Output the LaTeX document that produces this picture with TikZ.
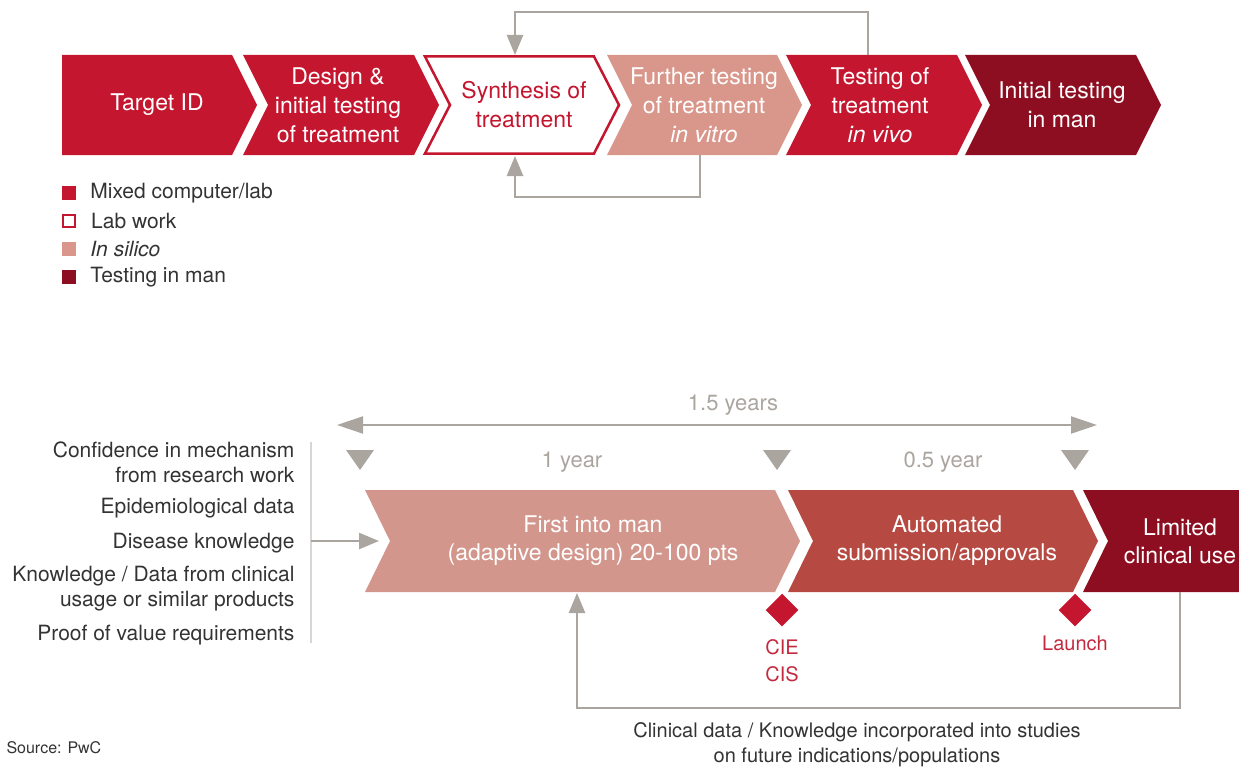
\documentclass[tikz,border=0pt]{standalone}
\usepackage{fontspec}
\setmainfont{TeX Gyre Heros}
\usepackage{tikz}
\usetikzlibrary{arrows.meta, positioning}
\usepackage{xcolor}
\definecolor{mixred}{HTML}{C4162F}
\definecolor{silico}{HTML}{D9968A}
\definecolor{silicolight}{HTML}{D3968C}
\definecolor{autored}{HTML}{B64A43}
\definecolor{manred}{HTML}{8E0E21}
\definecolor{arrowgrey}{HTML}{ABA59F}
\definecolor{listgrey}{HTML}{D8D5D2}
\definecolor{labelred}{HTML}{C42A3E}
\definecolor{bodytext}{HTML}{333333}

\begin{document}
\begin{tikzpicture}[x=1pt, y=-1pt, >={Triangle[length=20pt, width=16pt]},
                    stage text/.style={text=white, align=center, font=\fontsize{23}{29}\selectfont},
                    legend box/.style={minimum size=14pt, inner sep=0pt},
                    legend text/.style={text=bodytext, inner sep=0pt, font=\fontsize{21}{25}\selectfont},
                    input text/.style={anchor=east, align=right, text=bodytext, font=\fontsize{21}{25}\selectfont},
                    grey text/.style={text=arrowgrey, font=\fontsize{22}{26}\selectfont},
                    loop line/.style={draw=arrowgrey, line width=2.5pt},
                    milestone/.style={fill=mixred, minimum size=23pt, inner sep=0pt, rotate=45},
                    milestone text/.style={text=labelred, align=center, font=\fontsize{20}{27}\selectfont}]

    \useasboundingbox (0,0) rectangle (1239,768);

    % research pipeline
    \fill[mixred] (62,55) -- (232,55) -- (257,105) -- (232,155) -- (62,155) -- cycle;
    \foreach \xl/\xr/\col in {243/414/mixred, 607/777/silico, 786/957/mixred, 965/1136/manred}
        \fill[\col] (\xl,55) -- (\xr,55) -- (\xr+25,105) -- (\xr,155) -- (\xl,155) -- (\xl+25,105) -- cycle;
    \draw[mixred, line width=2.5pt, fill=white] (425,56.5) -- (594,56.5) -- (619,105) -- (594,153.5) -- (425,153.5) -- (450,105) -- cycle;

    \node[stage text]               (target) at (157,105)  {Target ID};
    \node[stage text]               (design) at (338,105)  {Design \&\\initial testing\\of treatment};
    \node[stage text, text=mixred]  (synth)  at (524,105)  {Synthesis of\\treatment};
    \node[stage text]               (vitro)  at (704,105)  {Further testing\\of treatment\\\textit{in vitro}};
    \node[stage text]               (vivo)   at (880,105)  {Testing of\\treatment\\\textit{in vivo}};
    \node[stage text]               (inman)  at (1062,105) {Initial testing\\in man};

    % loops back to synthesis
    \coordinate (synth top)    at (515,55);
    \coordinate (synth bottom) at (515,156);
    \coordinate (vivo top)     at (868,55);
    \coordinate (vitro bottom) at (700,155);
    \draw[loop line, ->] (vivo top) -- ++(0,-43) -| (synth top);
    \draw[loop line, ->] (vitro bottom) -- ++(0,42) -| (synth bottom);

    % legend
    \node[legend box, fill=mixred]                                   (key mixed) at (69,193) {};
    \node[legend box, draw=mixred, fill=white, line width=2pt, minimum size=12pt] (key lab) at (69,221) {};
    \node[legend box, fill=silico]                                   (key silico) at (69,249) {};
    \node[legend box, fill=manred]                                   (key man) at (69,277) {};
    \node[legend text, right=14pt of key mixed]  (key mixed text)  {Mixed computer/lab};
    \node[legend text, right=15pt of key lab]    (key lab text)    {Lab work};
    \node[legend text, right=14pt of key silico] (key silico text) {\textit{In silico}};
    \node[legend text, right=14pt of key man]    (key man text)    {Testing in man};

    % timescale
    \coordinate (span left)  at (337,425);
    \coordinate (span right) at (1097,425);
    \draw[loop line, line width=2pt, {Triangle[length=26pt, width=17pt]}-{Triangle[length=26pt, width=17pt]}] (span left) -- (span right);
    \node[grey text] (span label) at (733,405) {1.5 years};
    \foreach \x in {360,777,1075}
        \fill[arrowgrey] (\x-14,450) -- (\x+14,450) -- (\x,470) -- cycle;
    \node[grey text] (one year)  at (572,462) {1 year};
    \node[grey text] (half year) at (943,462) {0.5 year};

    % accelerated route
    \fill[silicolight] (365,490) -- (775,490) -- (800,541) -- (775,592) -- (365,592) -- (390,541) -- cycle;
    \fill[autored] (788,490) -- (1073,490) -- (1098,541) -- (1073,592) -- (788,592) -- (813,541) -- cycle;
    \fill[manred] (1083,490) -- (1239,490) -- (1239,592) -- (1083,592) -- (1108,541) -- cycle;

    \node[stage text, font=\fontsize{23}{28}\selectfont] (first man) at (593,541)  {First into man\\(adaptive design) 20-100 pts};
    \node[stage text, font=\fontsize{23}{28}\selectfont] (automated) at (947,541)  {Automated\\submission/approvals};
    \node[stage text, font=\fontsize{23}{28}\selectfont] (limited)   at (1180,541) {Limited\\clinical use};

    \node[milestone]      (cie mark)    at (782,610)  {};
    \node[milestone]      (launch mark) at (1075,610) {};
    \node[milestone text] (cie text)    at (782,661)  {CIE\\CIS};
    \node[milestone text] (launch text) at (1075,643) {Launch};

    % inputs
    \node[input text] (confidence) at (298,462) {Confidence in mechanism\\from research work};
    \node[input text] (epidemio)   at (298,508) {Epidemiological data};
    \node[input text] (disease)    at (298,543) {Disease knowledge};
    \node[input text] (knowledge)  at (298,589) {Knowledge / Data from clinical\\usage or similar products};
    \node[input text] (proof)      at (298,635) {Proof of value requirements};

    \coordinate (list top)    at (311,442);
    \coordinate (list bottom) at (311,643);
    \coordinate (list out)    at (311,541);
    \coordinate (first in)    at (379,541);
    \draw[listgrey, line width=1.5pt] (list top) -- (list bottom);
    \draw[loop line, ->] (list out) -- (first in);

    % clinical feedback
    \coordinate (first bottom)   at (577,593);
    \coordinate (limited bottom) at (1180,592);
    \draw[loop line, ->] (limited bottom) -- ++(0,116) -| (first bottom);
    \node[text=bodytext, align=center, font=\fontsize{20}{25}\selectfont] (feedback label) at (857,745)
        {Clinical data / Knowledge incorporated into studies\\on future indications/populations};

    \node[anchor=west, text=bodytext, font=\fontsize{16}{18}\selectfont] (source) at (3,748) {Source: PwC};

\end{tikzpicture}
\end{document}
